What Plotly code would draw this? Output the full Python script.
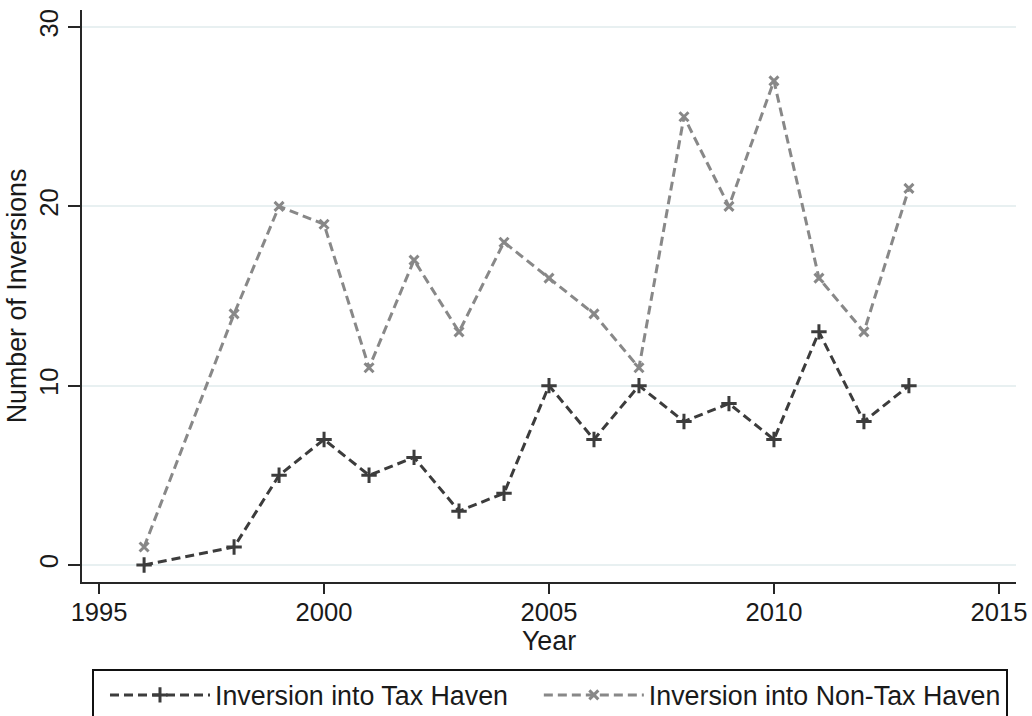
import plotly.graph_objects as go

# Annual counts of corporate inversions by destination type
years = [1996, 1998, 1999, 2000, 2001, 2002, 2003, 2004, 2005,
         2006, 2007, 2008, 2009, 2010, 2011, 2012, 2013]
tax_haven = [0, 1, 5, 7, 5, 6, 3, 4, 10, 7, 10, 8, 9, 7, 13, 8, 10]
non_tax_haven = [1, 14, 20, 19, 11, 17, 13, 18, 16, 14, 11, 25, 20, 27, 16, 13, 21]

series_names = ["Inversion into Tax Haven", "Inversion into Non-Tax Haven"]

x_ticks = [1995, 2000, 2005, 2010, 2015]
y_ticks = [0, 10, 20, 30]

FONT = "Liberation Sans, Arial, sans-serif"
TXT = "#1a1a1a"
AXIS = "#262626"
GRID = "#e8f0f1"
LABEL_SIZE = 26.8
TICK_SIZE = 25.6
# trailing spacing widens the first legend entry
ENTRY_PAD = "\u00a0\u00a0"

fig = go.Figure()
fig.add_trace(go.Scatter(
    x=years, y=tax_haven, mode="lines+markers",
    name=series_names[0] + ENTRY_PAD,
    line=dict(color="#3c3c3c", width=3, dash="9px,5px"),
    marker=dict(symbol="cross-thin-open", size=11,
                line=dict(color="#3c3c3c", width=3)),
))
fig.add_trace(go.Scatter(
    x=years, y=non_tax_haven, mode="lines+markers",
    name=series_names[1],
    line=dict(color="#888888", width=3, dash="9px,5px"),
    marker=dict(symbol="x-thin-open", size=9,
                line=dict(color="#888888", width=3)),
))

fig.update_layout(
    width=1032, height=716,
    margin=dict(l=82, r=16, t=10, b=134, autoexpand=False),
    paper_bgcolor="white", plot_bgcolor="white",
    font=dict(family=FONT, size=LABEL_SIZE, color=TXT),
    showlegend=True,
    legend=dict(
        orientation="h", x=0.0107, y=-0.1521,
        xanchor="left", yanchor="top",
        bordercolor="#111111", borderwidth=2,
        itemwidth=100, indentation=11,
        font=dict(family=FONT, size=LABEL_SIZE, color=TXT),
        tracegroupgap=0,
    ),
    xaxis=dict(
        range=[1994.62, 2015.38], tickvals=x_ticks,
        showgrid=False, zeroline=False,
        showline=True, linecolor=AXIS, linewidth=2,
        ticks="outside", ticklen=10, tickwidth=2, tickcolor=AXIS,
        ticklabelstandoff=-4,
        tickfont=dict(family=FONT, size=TICK_SIZE, color=TXT),
        title=dict(text="Year", standoff=0,
                   font=dict(family=FONT, size=LABEL_SIZE, color=TXT)),
    ),
    yaxis=dict(
        range=[-0.95, 30.95], tickvals=y_ticks,
        showgrid=True, gridcolor=GRID, gridwidth=2,
        zeroline=False,
        showline=True, linecolor=AXIS, linewidth=2,
        ticks="outside", ticklen=12, tickwidth=2, tickcolor=AXIS,
        tickangle=-90,
        tickfont=dict(family=FONT, size=TICK_SIZE, color=TXT),
        title=dict(text="Number of Inversions", standoff=0,
                   font=dict(family=FONT, size=LABEL_SIZE, color=TXT)),
    ),
)

fig.write_html("out.html")
